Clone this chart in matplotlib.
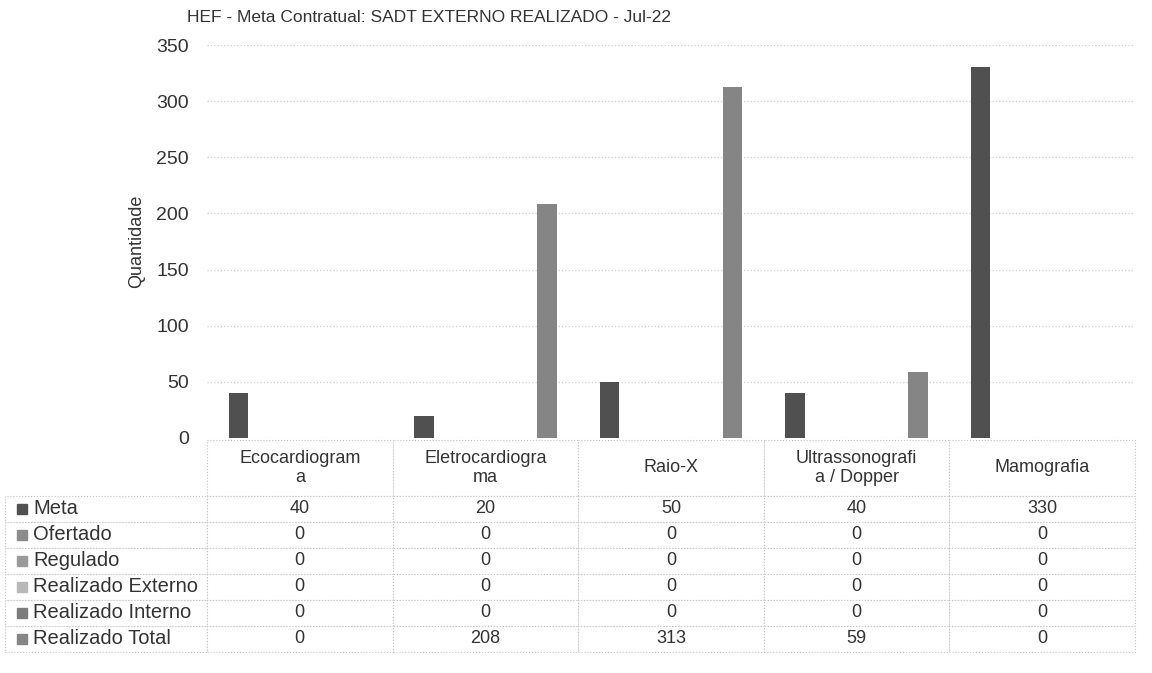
import numpy as np
import matplotlib.pyplot as plt
from matplotlib.patches import Rectangle
from matplotlib.table import Table

plt.rcParams.update({
    "font.family": ["Liberation Sans", "DejaVu Sans"],
    "font.size": 13,
})

# Dados
categorias = ['Ecocardiogram\na', 'Eletrocardiogra\nma', 'Raio-X',
              'Ultrassonografi\na / Dopper', 'Mamografia']
series = ['Meta', 'Ofertado', 'Regulado', 'Realizado Externo',
          'Realizado Interno', 'Realizado Total']
meta = [40, 20, 50, 40, 330]
ofertado = [0, 0, 0, 0, 0]
regulado = [0, 0, 0, 0, 0]
realizado_externo = [0, 0, 0, 0, 0]
realizado_interno = [0, 0, 0, 0, 0]
realizado_total = [0, 208, 313, 59, 0]
valores = [meta, ofertado, regulado, realizado_externo,
           realizado_interno, realizado_total]
cores = ['#505050', '#8c8c8c', '#9a9a9a', '#b8b8b8', '#7c7c7c', '#858585']

fig = plt.figure(figsize=(11.52, 6.73), dpi=100)
ax = fig.add_axes([207/1152, 235/673, 928/1152, 393/673])

x = np.arange(len(categorias))
passo = 0.1326
largura = 0.105
for i, (vals, cor) in enumerate(zip(valores, cores)):
    ax.bar(x + (i - 2.5)*passo, vals, largura, color=cor, zorder=3)

ax.set_xlim(-0.5, len(categorias) - 0.5)
ax.set_ylim(0, 350)
ax.set_yticks(np.arange(0, 351, 50))
ax.set_xticks([])
ax.tick_params(axis='y', length=0, pad=13, labelsize=14, colors='#333333')
ax.grid(axis='y', linestyle=':', color='#cfcfcf', lw=0.9, zorder=0)
for s in ax.spines.values():
    s.set_visible(False)
ax.set_ylabel('Quantidade', fontsize=13, labelpad=8, color='#333333')

# Tabela de dados (coluna 0 = nomes das series)
tbl = Table(ax, bbox=[-0.2177, -0.5445, 1.2177, 0.5395])
w_rot, w_col = 0.2177, 0.2
h_cab, h_lin = 56, 26
for j, cat in enumerate(categorias):
    tbl.add_cell(0, j + 1, w_col, h_cab, text=cat, loc='center')
for i, nome in enumerate(series):
    c = tbl.add_cell(i + 1, 0, w_rot, h_lin, text=nome, loc='left')
    c.PAD = 0.139
    for j, v in enumerate(valores[i]):
        tbl.add_cell(i + 1, j + 1, w_col, h_lin, text=str(v), loc='center')
tbl.auto_set_font_size(False)
tbl.set_fontsize(13)
for (r, c), cell in tbl.get_celld().items():
    cell.set_edgecolor('#c4c4c4')
    cell.set_linestyle(':')
    cell.set_linewidth(0.8)
    cell.get_text().set_color('#333333')
    if c == 0:
        cell.get_text().set_fontsize(14.5)
ax.add_table(tbl)

# quadradinhos da legenda
for i, cor in enumerate(cores):
    yc = (438 - (496 + 13 + 26*i)) / 393
    ax.add_patch(Rectangle((-0.2047, yc - 0.0127), 0.0108, 0.0254,
                           transform=ax.transAxes, color=cor, clip_on=False))

fig.text(429/1152, 1 - 18/673,
         'HEF - Meta Contratual: SADT EXTERNO REALIZADO - Jul-22',
         ha='center', va='center', fontsize=12.5, color='#333333')

fig.savefig('out.png', dpi=100)
